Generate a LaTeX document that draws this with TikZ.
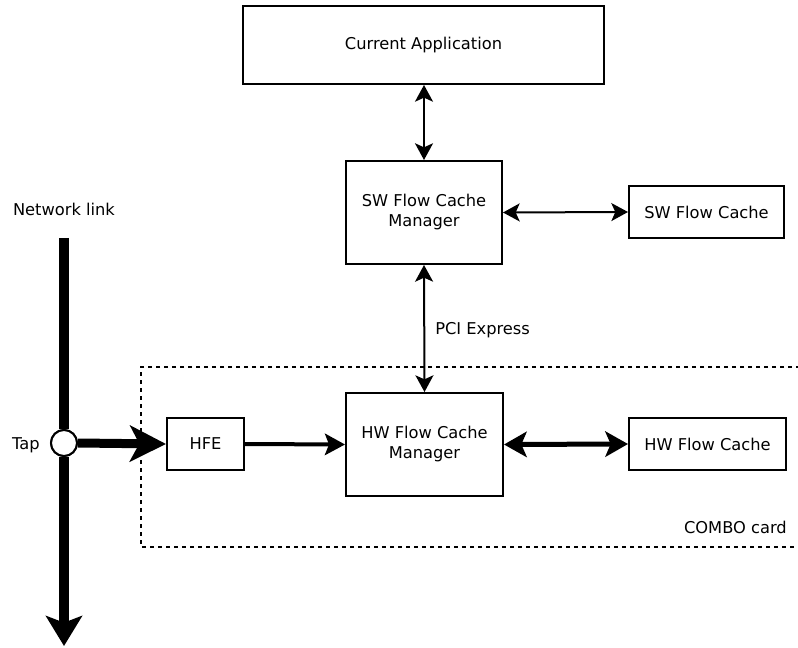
\documentclass[tikz,border=0pt]{standalone}
\usepackage{fontspec}
\setmainfont{DejaVu Sans}
\usetikzlibrary{arrows.meta}
\begin{document}
\begin{tikzpicture}[x=0.75pt,y=-0.75pt,
  font=\fontsize{12.2}{15}\selectfont,
  box/.style={draw,line width=1.5pt,inner sep=0pt,align=center,fill=white},
  thin/.style={line width=1.5pt,{Stealth[length=12.5pt,width=13.5pt,inset=3pt]}-{Stealth[length=12.5pt,width=13.5pt,inset=3pt]}},
  lbl/.style={inner sep=0pt}]
\useasboundingbox (0,0) rectangle (798,648);
% dashed combo card border
\draw[line width=1.5pt,dash pattern=on 3pt off 3pt] (800,367) -- (141,367) -- (141,547) -- (800,547);
% boxes
\node[box,minimum width=270.75pt,minimum height=58.5pt] (app) at (423.5,45) {Current Application};
\node[box,minimum width=117pt,minimum height=77.25pt] (swm) at (424,212.5) {SW Flow Cache\\Manager};
\node[box,minimum width=116.25pt,minimum height=39pt] (swc) at (706.5,212) {SW Flow Cache};
\node[box,minimum width=117.75pt,minimum height=77.25pt] (hwm) at (424.5,444.5) {HW Flow Cache\\Manager};
\node[box,minimum width=117.75pt,minimum height=39pt] (hwc) at (707.5,444) {HW Flow Cache};
\node[box,minimum width=57.75pt,minimum height=39pt] (hfe) at (205.5,444) {HFE};
% network link
\coordinate (nltop) at (64,238);
\coordinate (nlbot) at (64,646);
\node[draw,circle,line width=1.5pt,fill=white,minimum size=19.5pt,inner sep=0pt] (tap) at (64,443) {};
\draw[line width=7.5pt] (nltop) -- (tap.north);
\draw[line width=7.5pt,-{Stealth[length=22.5pt,width=27pt,inset=5pt]}] (tap.south) -- (nlbot);
\node[draw,circle,line width=1.5pt,fill=white,minimum size=19.5pt,inner sep=0pt] at (tap) {};
\draw[line width=6.75pt,-{Stealth[length=27pt,width=27pt,inset=7pt]}] (tap.east) -- (hfe.west);
% connectors
\draw[thin] (app.south -| swm.north) -- (swm.north);
\draw[thin] (swm.east) -- (swc.west);
\draw[thin] (swm.south) -- (hwm.north);
\draw[line width=3pt,-{Stealth[length=15pt,width=16pt,inset=3pt]}] (hfe.east) -- (hwm.west);
\draw[line width=3.75pt,{Stealth[length=17pt,width=19pt,inset=4pt]}-{Stealth[length=17pt,width=19pt,inset=4pt]}] (hwm.east) -- (hwc.west);
% labels
\node[lbl] (nl) at (64,209) {Network link};
\node[lbl,anchor=east] (taplbl) at (40,445) {Tap};
\node[lbl,anchor=west] (pci) at (435,330) {PCI Express};
\node[lbl,anchor=east] (combo) at (787,527) {COMBO card};
\end{tikzpicture}
\end{document}
